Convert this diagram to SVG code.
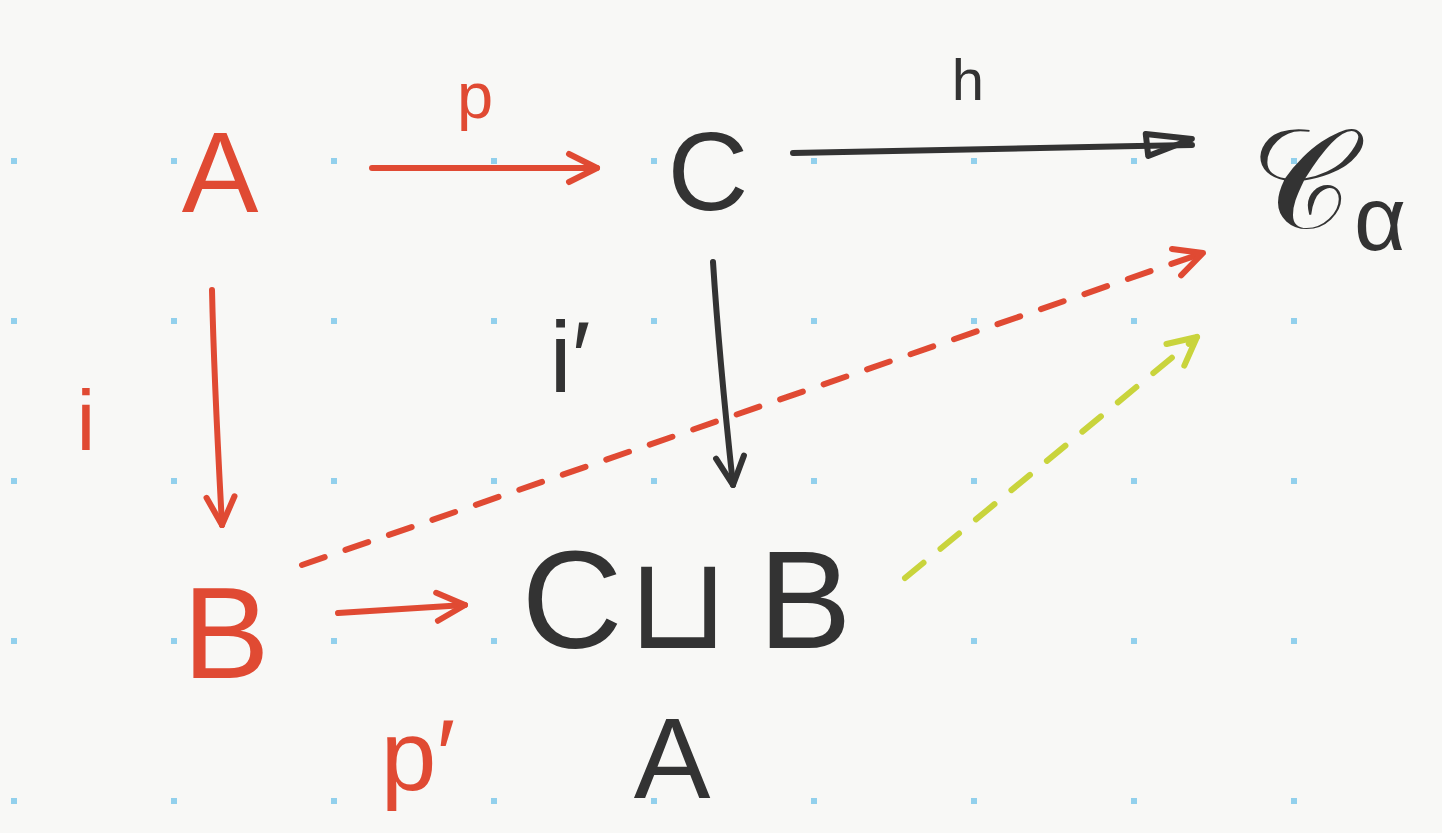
<svg xmlns="http://www.w3.org/2000/svg" width="1442" height="833" viewBox="0 0 1442 833">
<style>
.red{fill:#e04a33;}
.blk{fill:#333333;}
.lbl{font-family:"Liberation Sans","DejaVu Sans",sans-serif;}
.ln{fill:none;stroke-width:6;stroke-linecap:round;stroke-linejoin:round;}
.r{stroke:#e04a33;}
.k{stroke:#333333;}
.g{stroke:#c9d43c;}
.dash{stroke-dasharray:24 22;}
</style>
<defs>
<pattern id="dots" x="0" y="158" width="160" height="160" patternUnits="userSpaceOnUse">
<rect x="11" y="0" width="6" height="6" fill="#92d0ec"/>
</pattern>
<marker id="vr" viewBox="0 0 40 40" refX="36" refY="20" markerWidth="40" markerHeight="40" markerUnits="userSpaceOnUse" orient="auto">
<path d="M8,6 L36,20 L8,34" fill="none" stroke="#e04a33" stroke-width="6" stroke-linecap="round" stroke-linejoin="round"/>
</marker>
<marker id="vk" viewBox="0 0 40 40" refX="36" refY="20" markerWidth="40" markerHeight="40" markerUnits="userSpaceOnUse" orient="auto">
<path d="M8,6 L36,20 L8,34" fill="none" stroke="#333333" stroke-width="6" stroke-linecap="round" stroke-linejoin="round"/>
</marker>
<marker id="vg" viewBox="0 0 40 40" refX="36" refY="20" markerWidth="40" markerHeight="40" markerUnits="userSpaceOnUse" orient="auto">
<path d="M8,6 L36,20 L8,34" fill="none" stroke="#c9d43c" stroke-width="6" stroke-linecap="round" stroke-linejoin="round"/>
</marker>
<marker id="tk" viewBox="0 0 60 40" refX="54" refY="20" markerWidth="60" markerHeight="40" markerUnits="userSpaceOnUse" orient="auto">
<path d="M8,8 L54,14 L10,30 Z" fill="none" stroke="#333333" stroke-width="6" stroke-linejoin="round"/>
</marker>
</defs>
<rect width="1442" height="833" fill="#f8f8f6"/>
<rect x="0" y="150" width="1442" height="683" fill="url(#dots)"/>

<g id="connectors">
<path id="e-p" class="ln r" d="M372,168 L597,168" marker-end="url(#vr)"/>
<path id="e-h" class="ln k" d="M793,153 C900,150 1050,148 1192,145" marker-end="url(#tk)"/>
<path id="e-i" class="ln r" d="M212,290 C214,380 218,450 222,525" marker-end="url(#vr)"/>
<path id="e-i2" class="ln k" d="M713,262 C718,340 726,420 733,485" marker-end="url(#vk)"/>
<path id="e-p2" class="ln r" d="M338,613 L465,605" marker-end="url(#vr)"/>
<path id="e-dr" class="ln r dash" d="M302,565 L1203,253" marker-end="url(#vr)"/>
<path id="e-dg" class="ln g dash" d="M905,578 L1197,337" marker-end="url(#vg)"/>
</g>

<g id="node-A">
<text class="lbl red" x="220" y="212" font-size="115" text-anchor="middle">A</text>
</g>
<g id="node-C">
<text class="lbl blk" x="708" y="210" font-size="112" text-anchor="middle">C</text>
</g>
<g id="node-Calpha">
<text class="blk" x="1250" y="228" font-size="140" font-family="'DejaVu Serif','Liberation Serif',serif">𝒞</text>
<text class="lbl blk" x="1380" y="250" font-size="90" text-anchor="middle">α</text>
</g>
<g id="node-B">
<text class="lbl red" x="226" y="678" font-size="130" text-anchor="middle">B</text>
</g>
<g id="node-pushout">
<text class="lbl blk" x="572" y="648" font-size="140" text-anchor="middle">C</text>
<text class="lbl blk" x="678" y="648" font-size="130" text-anchor="middle">⊔</text>
<text class="lbl blk" x="805" y="648" font-size="140" text-anchor="middle">B</text>
<text class="lbl blk" x="672" y="798" font-size="115" text-anchor="middle">A</text>
</g>
<g id="labels">
<text class="lbl red" x="475" y="118" font-size="65" text-anchor="middle">p</text>
<text class="lbl blk" x="968" y="100" font-size="58" text-anchor="middle">h</text>
<text class="lbl red" x="86" y="450" font-size="85" text-anchor="middle">i</text>
<text class="lbl blk" x="570" y="392" font-size="100" text-anchor="middle">i′</text>
<text class="lbl red" x="418" y="790" font-size="100" text-anchor="middle">p′</text>
</g>
</svg>
